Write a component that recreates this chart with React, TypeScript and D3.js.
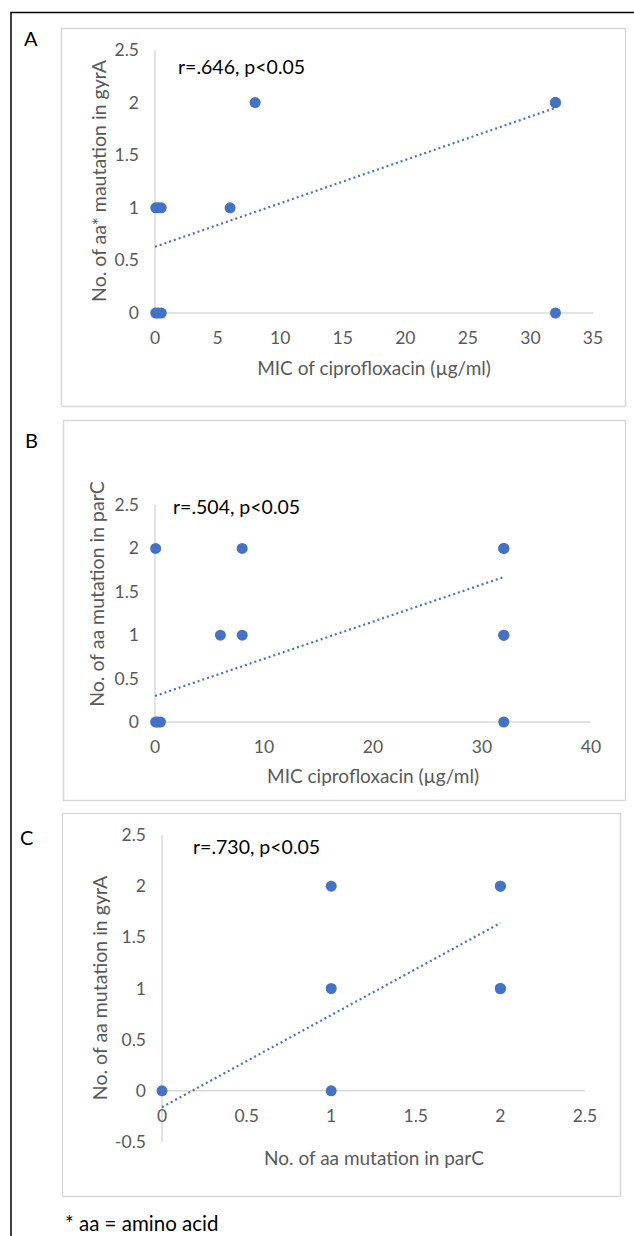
import { useEffect, useRef } from 'react';
import * as d3 from 'd3';

// panel A: MIC vs gyrA
const micA = [0.06, 0.25, 0.5, 0.06, 0.25, 0.5, 6, 8, 32, 32, 32];
const gyrA_A = [0, 0, 0, 1, 1, 1, 1, 2, 2, 2, 0];
const trendA = [0.63, 1.95]; // value at x=0 and x=32

// panel B: MIC vs parC
const micB = [0.06, 8, 32, 32, 6, 8, 32, 32, 0.06, 0.25, 0.5, 32];
const parC_B = [2, 2, 2, 2, 1, 1, 1, 1, 0, 0, 0, 0];
const trendB = [0.3, 1.67];

// panel C: parC vs gyrA
const parC_C = [0, 1, 1, 1, 2, 2, 2, 2];
const gyrA_C = [0, 0, 1, 2, 2, 2, 1, 1];
const trendC = [-0.16, 1.64]; // value at x=0 and x=2

const ticksA_x = [0, 5, 10, 15, 20, 25, 30, 35];
const ticksB_x = [0, 10, 20, 30, 40];
const ticksC_x = [0, 0.5, 1, 1.5, 2, 2.5];
const ticksY = [0, 0.5, 1, 1.5, 2, 2.5];
const ticksC_y = [-0.5, 0, 0.5, 1, 1.5, 2, 2.5];

const BLUE = '#4472c4';
const GRID = '#d9d9d9';
const TXT = '#595959';
const FONT = 'Lato, "Open Sans", sans-serif';

const panels = [
    {
        label: 'A', labelPos: [24, 46],
        box: [61, 28, 625, 406],
        xs: micA, ys: gyrA_A, trendX: [0, 32], trendY: trendA,
        xDomain: [0, 35], xRange: [155, 593], xTicks: ticksA_x,
        yDomain: [0, 2.5], yRange: [313, 50], yTicks: ticksY,
        xTitle: 'MIC of ciprofloxacin (µg/ml)', xTitlePos: [374, 375],
        yTitle: 'No. of aa* mautation in gyrA', yTitlePos: [99, 181],
        note: 'r=.646, p<0.05', notePos: [178, 74],
    },
    {
        label: 'B', labelPos: [25, 448],
        box: [63, 420, 625, 800],
        xs: micB, ys: parC_B, trendX: [0, 32], trendY: trendB,
        xDomain: [0, 40], xRange: [155, 591], xTicks: ticksB_x,
        yDomain: [0, 2.5], yRange: [722, 505], yTicks: ticksY,
        xTitle: 'MIC ciprofloxacin (µg/ml)', xTitlePos: [373, 783],
        yTitle: 'No. of aa mutation in parC', yTitlePos: [97, 594],
        note: 'r=.504, p<0.05', notePos: [173, 514],
    },
    {
        label: 'C', labelPos: [20, 845],
        box: [62, 813, 620, 1196],
        xs: parC_C, ys: gyrA_C, trendX: [0, 2], trendY: trendC,
        xDomain: [0, 2.5], xRange: [162, 585], xTicks: ticksC_x,
        yDomain: [-0.5, 2.5], yRange: [1142, 835], yTicks: ticksC_y,
        xTitle: 'No. of aa mutation in parC', xTitlePos: [374, 1165],
        yTitle: 'No. of aa mutation in gyrA', yTitlePos: [100, 988],
        note: 'r=.730, p<0.05', notePos: [193, 854],
    },
];

const App = () => {
    const svgRef = useRef<SVGSVGElement>(null);

    useEffect(() => {
        const svg = d3.select(svgRef.current);
        svg.selectAll('*').remove();
        svg.style('font-family', FONT);

        // outer black frame (cut off on the right and bottom)
        svg.append('rect')
            .attr('x', 11).attr('y', 12.5)
            .attr('width', 700).attr('height', 1300)
            .attr('fill', 'none').attr('stroke', '#000').attr('stroke-width', 1.5);

        panels.forEach(p => {
            const g = svg.append('g');
            const [bx0, by0, bx1, by1] = p.box;
            g.append('rect')
                .attr('x', bx0 + 0.5).attr('y', by0 + 0.5)
                .attr('width', bx1 - bx0).attr('height', by1 - by0)
                .attr('fill', '#fff').attr('stroke', GRID).attr('stroke-width', 1.5);

            g.append('text')
                .attr('x', p.labelPos[0]).attr('y', p.labelPos[1])
                .style('font-size', '20px').attr('fill', '#000')
                .text(p.label);

            const x = d3.scaleLinear().domain(p.xDomain).range(p.xRange);
            const y = d3.scaleLinear().domain(p.yDomain).range(p.yRange);

            // axis lines
            g.append('line')
                .attr('x1', x(p.xDomain[0])).attr('x2', x(p.xDomain[1]))
                .attr('y1', y(0)).attr('y2', y(0))
                .attr('stroke', GRID).attr('stroke-width', 1.5);
            g.append('line')
                .attr('x1', x(0)).attr('x2', x(0))
                .attr('y1', y(p.yDomain[0])).attr('y2', y(p.yDomain[1]))
                .attr('stroke', GRID).attr('stroke-width', 1.5);

            // tick labels
            g.selectAll('.xt')
                .data(p.xTicks)
                .join('text')
                .attr('x', d => x(d))
                .attr('y', y(0) + 31)
                .attr('text-anchor', 'middle')
                .attr('fill', TXT)
                .style('font-size', '17.5px')
                .text(d => String(d));

            g.selectAll('.yt')
                .data(p.yTicks)
                .join('text')
                .attr('x', x(0) - 16)
                .attr('y', d => y(d) + 6)
                .attr('text-anchor', 'end')
                .attr('fill', TXT)
                .style('font-size', '17.5px')
                .text(d => String(d));

            // axis titles
            g.append('text')
                .attr('x', p.xTitlePos[0]).attr('y', p.xTitlePos[1])
                .attr('text-anchor', 'middle').attr('fill', TXT)
                .style('font-size', '19px')
                .text(p.xTitle);
            g.append('text')
                .attr('transform', `translate(${p.yTitlePos[0]},${p.yTitlePos[1]}) rotate(-90)`)
                .attr('text-anchor', 'middle').attr('dy', '0.35em').attr('fill', TXT)
                .style('font-size', '19.5px')
                .text(p.yTitle);

            // trend line
            const line = d3.line<number>()
                .x((_, i) => x(p.trendX[i]))
                .y(d => y(d));
            g.append('path')
                .attr('d', line(p.trendY))
                .attr('fill', 'none')
                .attr('stroke', BLUE)
                .attr('stroke-width', 2.2)
                .attr('stroke-dasharray', '2 3');

            // points
            g.selectAll('circle')
                .data(p.xs.map((v, i) => [v, p.ys[i]]))
                .join('circle')
                .attr('cx', d => x(d[0]))
                .attr('cy', d => y(d[1]))
                .attr('r', 5.5)
                .attr('fill', BLUE);

            g.append('text')
                .attr('x', p.notePos[0]).attr('y', p.notePos[1])
                .attr('fill', '#000')
                .style('font-size', '19.5px')
                .text(p.note);
        });

        svg.append('text')
            .attr('x', 65).attr('y', 1231)
            .attr('fill', '#000')
            .style('font-size', '20.5px')
            .text('* aa = amino acid');
    }, []);

    return (
        <svg ref={svgRef} width="634" height="1236"
            style={{ position: 'absolute', left: 0, top: 0, background: '#fff' }}></svg>
    );
};

export default App;
